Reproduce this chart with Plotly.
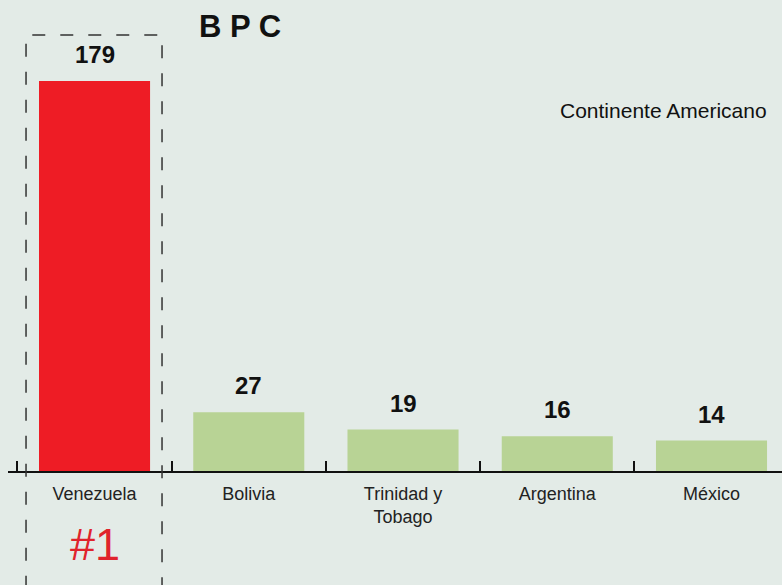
import plotly.graph_objects as go

# datos
paises = ["Venezuela", "Bolivia", "Trinidad y<br>Tobago", "Argentina", "México"]
reservas = [179, 27, 19, 16, 14]
colores = ["#ee1c25", "#b8d395", "#b8d395", "#b8d395", "#b8d395"]

FONT = "Liberation Sans, Arial, Helvetica, sans-serif"
BG = "#e3ebe7"

fig = go.Figure()
fig.add_trace(go.Bar(
    x=paises, y=reservas, marker=dict(color=colores, line=dict(width=0)),
    width=0.72, hoverinfo="skip"))

# etiquetas de valor encima de cada barra
for p, v in zip(paises, reservas):
    fig.add_annotation(x=p, y=v, text="<b>%d</b>" % v, showarrow=False,
                       yanchor="bottom", yshift=11,
                       font=dict(family=FONT, size=24, color="#111111"))

fig.add_annotation(xref="paper", yref="paper", x=0.2997, y=0.9427,
                   xanchor="center", yanchor="middle",
                   text="<b>B P C</b>", showarrow=False,
                   font=dict(family=FONT, size=31, color="#111111"))
fig.add_annotation(xref="paper", yref="paper", x=0.983, y=0.766,
                   xanchor="right", yanchor="middle",
                   text="Continente Americano", showarrow=False,
                   font=dict(family=FONT, size=21, color="#111111"))
fig.add_annotation(x=paises[0], yref="paper", y=-0.155, text="#1",
                   xanchor="center", yanchor="middle", showarrow=False,
                   font=dict(family=FONT, size=45, color="#e0232c"))

# recuadro punteado del #1
fig.add_shape(type="path", xref="paper", yref="paper",
              path="M 0.0233,-0.25 L 0.0233,0.9257 L 0.199,0.9257 L 0.199,-0.25",
              line=dict(color="#333333", width=1.5, dash="13px,15px"))

fig.update_layout(
    width=782, height=585,
    margin=dict(l=8, r=0, t=0, b=114),
    paper_bgcolor=BG, plot_bgcolor=BG,
    showlegend=False,
    xaxis=dict(type="category", range=[-0.561, 4.457],
               showline=True, linecolor="#111111", linewidth=1.8,
               ticks="inside", tickson="boundaries", ticklen=10,
               tickcolor="#111111", tickwidth=1.5,
               ticklabelstandoff=5, showgrid=False,
               tickfont=dict(family=FONT, size=18, color="#222222")),
    yaxis=dict(range=[0, 216.2], visible=False, showgrid=False, zeroline=False),
)

fig.write_html("out.html", config={"displayModeBar": False},
               post_script="document.body.style.margin='0';")
